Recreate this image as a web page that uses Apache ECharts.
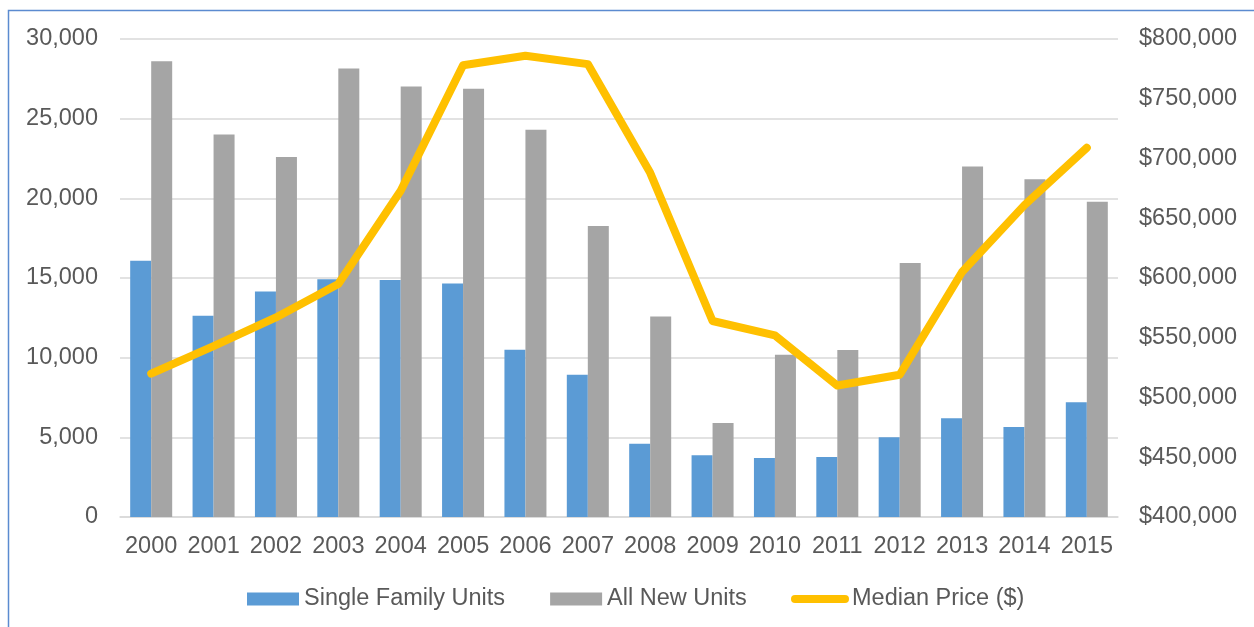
<!DOCTYPE html>
<html>
<head>
<meta charset="utf-8">
<script src="https://cdn.jsdelivr.net/npm/echarts@6/dist/echarts.min.js"></script>
<style>
html,body{margin:0;padding:0;background:#fff;}
#chart{width:1254px;height:627px;}
</style>
</head>
<body>
<div id="chart"></div>
<script>
const categories = ['2000','2001','2002','2003','2004','2005','2006','2007','2008','2009','2010','2011','2012','2013','2014','2015'];
const singleFamilyUnits = [16080, 12630, 14150, 14920, 14870, 14650, 10500, 8920, 4600, 3870, 3700, 3770, 5000, 6200, 5650, 7200];
const allNewUnits = [28600, 24000, 22600, 28150, 27020, 26880, 24300, 18270, 12580, 5900, 10180, 10480, 15940, 22000, 21200, 19780];
const medianPrice = [520000, 543000, 567000, 595000, 673000, 778000, 786000, 779000, 688000, 564000, 552000, 510000, 519000, 605000, 661000, 709000];
const leftTicks = {min: 0, max: 30000, interval: 5000};
const rightTicks = {min: 400000, max: 800000, interval: 50000};
const seriesNames = ['Single Family Units', 'All New Units', 'Median Price ($)'];

const FONT = '"Liberation Sans", Arial, sans-serif';
const TXT = '#595959';
const GRIDC = '#D9D9D9';
const FS = 23.5;

function fmtNum(v){ return v.toString().replace(/\B(?=(\d{3})+(?!\d))/g, ','); }

const chart = echarts.init(document.getElementById('chart'), null, {renderer: 'canvas'});
chart.setOption({
  animation: false,
  backgroundColor: '#fff',
  textStyle: {fontFamily: FONT},
  graphic: [{
    type: 'rect',
    shape: {x: 8.5, y: 10.5, width: 1300, height: 700},
    style: {fill: 'none', stroke: '#5B8BD0', lineWidth: 1.5},
    silent: true
  }],
  grid: {left: 120, right: 136, top: 39, bottom: 110, containLabel: false},
  legend: [{
    data: [seriesNames[0], seriesNames[1]],
    left: 242, top: 582,
    itemWidth: 52, itemHeight: 13, itemGap: 45,
    icon: 'rect',
    textStyle: {fontSize: FS, color: TXT, fontFamily: FONT}
  }, {
    data: [{name: seriesNames[2], icon: 'path://M4,0 L54,0 A4,4 0 0 1 54,8 L4,8 A4,4 0 0 1 4,0 Z'}],
    left: 786, top: 582,
    itemWidth: 58, itemHeight: 8,
    textStyle: {fontSize: FS, color: TXT, fontFamily: FONT, padding: [0,0,0,-2]}
  }],
  xAxis: {
    type: 'category',
    data: categories,
    axisLine: {lineStyle: {color: GRIDC, width: 1.5}},
    axisTick: {show: false},
    axisLabel: {fontSize: FS, color: TXT, margin: 18, interval: 0, fontFamily: FONT}
  },
  yAxis: [{
    type: 'value',
    min: leftTicks.min, max: leftTicks.max, interval: leftTicks.interval,
    axisLine: {show: false}, axisTick: {show: false},
    splitLine: {lineStyle: {color: GRIDC, width: 1.5}},
    axisLabel: {fontSize: FS, color: TXT, margin: 22, fontFamily: FONT, formatter: v => fmtNum(v)}
  }, {
    type: 'value',
    min: rightTicks.min, max: rightTicks.max, interval: rightTicks.interval,
    axisLine: {show: false}, axisTick: {show: false},
    splitLine: {show: false},
    axisLabel: {fontSize: FS, color: TXT, margin: 21, fontFamily: FONT, formatter: v => '$' + fmtNum(v)}
  }],
  series: [{
    name: seriesNames[0],
    type: 'bar',
    data: singleFamilyUnits,
    barWidth: 21,
    barGap: '0%',
    itemStyle: {color: '#5B9BD5'}
  }, {
    name: seriesNames[1],
    type: 'bar',
    data: allNewUnits,
    barWidth: 21,
    barGap: '0%',
    itemStyle: {color: '#A5A5A5'}
  }, {
    name: seriesNames[2],
    type: 'line',
    yAxisIndex: 1,
    data: medianPrice,
    symbol: 'none',
    lineStyle: {color: '#FFC000', width: 8, cap: 'round', join: 'round'},
    itemStyle: {color: '#FFC000'},
    z: 5
  }]
});
</script>
</body>
</html>
